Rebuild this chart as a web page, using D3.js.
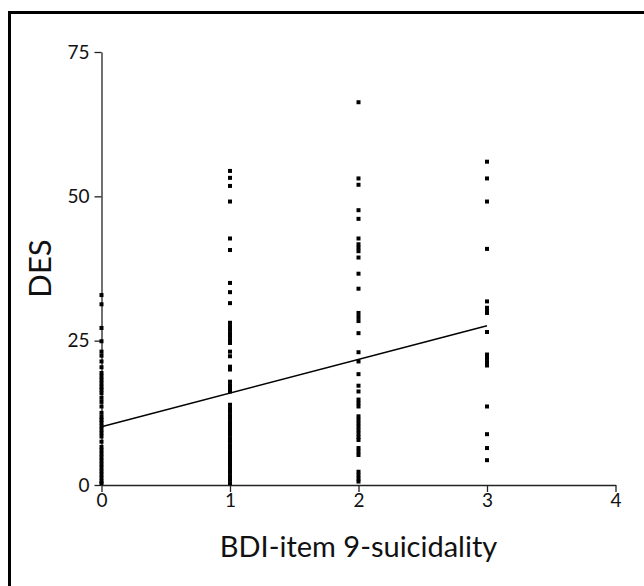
<!DOCTYPE html>
<meta charset="utf-8">
<head>
<style>
body { margin: 0; background: #fff; }
text { font-family: Lato, "Open Sans", sans-serif; fill: #111; }
.axis path, .axis line { stroke: #222; stroke-width: 1.3px; }
</style>
</head>
<body>
<div id="my_dataviz"></div>
<script src="https://d3js.org/d3.v7.min.js"></script>
<script>

// DES scores, one list per BDI item 9 level
var des0 = [32.9, 31.3, 27.2, 24.9, 23.1, 22.4, 21.4, 20.4, 19.4, 18.8, 18.2, 17.6, 17.0, 16.5, 15.9,
            15.1, 14.4, 13.6, 12.5, 11.8, 11.3, 10.8, 10.2, 9.6, 9.0, 8.4, 7.5, 6.6, 6.0, 5.4, 4.8,
            4.2, 3.6, 3.0, 2.4, 1.8, 1.2, 0.6, 0.3];
var des1 = [54.4, 53.2, 51.8, 49.1, 42.7, 40.7, 35.0, 33.4, 31.5, 28.1, 27.5, 26.9, 26.3, 25.7, 25.1,
            24.6, 23.1, 22.3, 20.5, 20.0, 17.9, 17.3, 16.7, 16.2, 13.9, 13.3, 12.7, 12.1, 11.5, 10.9,
            10.3, 9.8, 9.3, 8.7, 8.1, 7.5, 6.9, 6.3, 5.7, 5.1, 4.5, 3.9, 3.3, 2.7, 2.1, 1.5, 0.9, 0.3];
var des2 = [66.3, 53.1, 52.0, 47.6, 46.1, 42.7, 41.7, 41.1, 40.5, 39.4, 36.6, 34.0, 29.8, 29.1, 28.4,
            26.3, 23.0, 21.4, 19.2, 17.2, 16.2, 14.8, 14.2, 13.6, 11.9, 11.3, 10.7, 10.1, 9.5, 8.9,
            8.3, 7.8, 6.4, 5.8, 5.2, 2.3, 1.7, 1.1, 0.6];
var des3 = [56.0, 53.1, 49.1, 40.9, 31.8, 30.7, 30.2, 29.8, 26.5, 22.6, 22.0, 21.3, 20.7, 13.6, 8.8,
            6.4, 4.3];

var levels = [0, 1, 2, 3];
var xTicks = [0, 1, 2, 3, 4];
var yTicks = [0, 25, 50, 75];

// regression line DES = a + b * item9
var fitX = [0, 3];
var fitIntercept = 10.1, fitSlope = 5.83;

var width = 644, height = 586;

var svg = d3.select("#my_dataviz")
  .append("svg")
    .attr("width", width)
    .attr("height", height);

// outer frame (runs off the right and bottom edges)
svg.append("rect")
  .attr("x", 9.5).attr("y", 12.5)
  .attr("width", 660).attr("height", 600)
  .attr("fill", "none")
  .attr("stroke", "#000")
  .attr("stroke-width", 3);

var x = d3.scaleLinear().domain([0, 4]).range([101.5, 615.5]);
var y = d3.scaleLinear().domain([0, 75]).range([485, 52]);

svg.append("g")
  .attr("class", "axis")
  .attr("transform", "translate(0," + y(0) + ")")
  .call(d3.axisBottom(x).tickValues(xTicks).tickFormat(d3.format("d"))
          .tickSize(7).tickSizeOuter(0).tickPadding(2))
  .selectAll("text").style("font-size", "19px");

svg.append("g")
  .attr("class", "axis")
  .attr("transform", "translate(" + x(0) + ",0)")
  .call(d3.axisLeft(y).tickValues(yTicks).tickFormat(d3.format("d"))
          .tickSize(7).tickSizeOuter(0).tickPadding(5))
  .selectAll("text").style("font-size", "19px");

svg.selectAll(".axis text").style("fill", "#111");

svg.append("text")
  .attr("x", x(2))
  .attr("y", 557)
  .style("text-anchor", "middle")
  .style("font-size", "29px")
  .text("BDI-item 9-suicidality");

svg.append("text")
  .attr("transform", "translate(51," + y(37.5) + ") rotate(-90)")
  .style("text-anchor", "middle")
  .style("font-size", "31px")
  .text("DES");

// points
var columns = [des0, des1, des2, des3];
var pts = [];
levels.forEach(function(lv, i) {
  columns[i].forEach(function(v) { pts.push({level: lv, des: v}); });
});

var s = 4;
svg.append("g")
  .selectAll("rect")
  .data(pts)
  .enter()
  .append("rect")
    .attr("x", function(d) { return x(d.level) - s / 2; })
    .attr("y", function(d) { return y(d.des) - s / 2; })
    .attr("width", s)
    .attr("height", s)
    .attr("fill", "#000");

// fitted line
var line = d3.line()
  .x(function(d) { return x(d); })
  .y(function(d) { return y(fitIntercept + fitSlope * d); });

svg.append("path")
  .datum(fitX)
  .attr("d", line)
  .attr("fill", "none")
  .attr("stroke", "#000")
  .attr("stroke-width", 1.5);

</script>
</body>
